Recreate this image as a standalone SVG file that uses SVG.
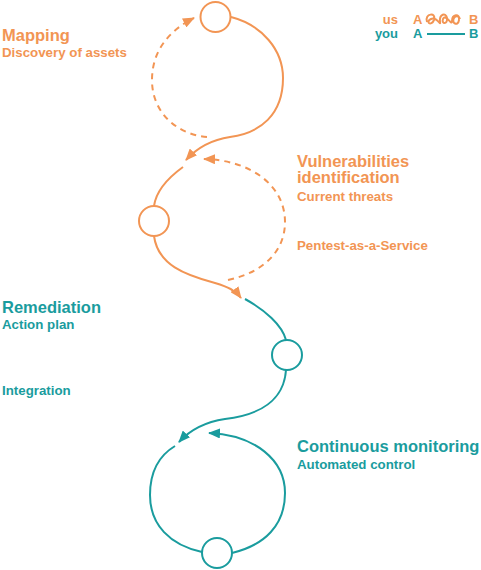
<svg xmlns="http://www.w3.org/2000/svg" width="481" height="570" viewBox="0 0 481 570">
<style>
.o{stroke:#F29554;fill:none;stroke-width:2}
.t{stroke:#1A9C9E;fill:none;stroke-width:2}
.d{stroke-dasharray:6 5}
.node{fill:#fff;stroke-width:2}
.h{font-family:"Liberation Sans",Arial,sans-serif;font-weight:700;font-size:16.5px}
.s{font-family:"Liberation Sans",Arial,sans-serif;font-weight:700;font-size:13.3px}
.l{font-family:"Liberation Sans",Arial,sans-serif;font-weight:700;font-size:13px}
.fo{fill:#F29554}
.ft{fill:#1A9C9E}
</style>
<defs>
<marker id="ao" viewBox="0 0 12 10" refX="11" refY="5" markerWidth="12" markerHeight="10" markerUnits="userSpaceOnUse" orient="auto"><path d="M0,0 L12,5 L0,10 z" fill="#F29554"/></marker>
<marker id="at" viewBox="0 0 12 10" refX="11" refY="5" markerWidth="12" markerHeight="10" markerUnits="userSpaceOnUse" orient="auto"><path d="M0,0 L12,5 L0,10 z" fill="#1A9C9E"/></marker>
</defs>
<g id="connectors">
<path class="o" d="M231,17 C262,25 283,50 283,78 C283,115 260,133 230,137 C210,140 196,149 186,160" marker-end="url(#ao)"/>
<path class="o d" d="M207,137 C180,135 152,115 152,80 C152,50 170,30 194,18" marker-end="url(#ao)"/>
<path class="o" d="M183,167 C165,180 156,192 154,206"/>
<path class="o" d="M154,236 C158,265 185,275 215,283 C228,287 235,290 241,298" marker-end="url(#ao)"/>
<path class="o d" d="M228,280 C265,272 285,250 285,222 C285,185 250,160 204,159" marker-end="url(#ao)"/>
<path class="t" d="M245,299 C265,310 282,325 286,340"/>
<path class="t" d="M286,370 C284,400 260,415 225,419 C205,422 190,430 179,442" marker-end="url(#at)"/>
<path class="t" d="M202,552 C170,545 150,525 150,495 C150,470 160,455 175,446"/>
<path class="t" d="M232,553 C265,545 285,525 285,493 C285,460 255,435 209,433" marker-end="url(#at)"/>
</g>
<g id="mapping">
<circle class="o node" cx="215.5" cy="17" r="15"/>
<text class="h fo" x="2" y="41">Mapping</text>
<text class="s fo" x="2" y="57">Discovery of assets</text>
</g>
<g id="vulnerabilities">
<circle class="o node" cx="154" cy="221" r="15"/>
<text class="h fo" x="297" y="167">Vulnerabilities</text>
<text class="h fo" x="297" y="183">identification</text>
<text class="s fo" x="297" y="201">Current threats</text>
<text class="s fo" x="297" y="250">Pentest-as-a-Service</text>
</g>
<g id="remediation">
<circle class="t node" cx="287" cy="355" r="15"/>
<text class="h ft" x="2" y="313">Remediation</text>
<text class="s ft" x="2" y="329">Action plan</text>
<text class="s ft" x="2" y="395">Integration</text>
</g>
<g id="monitoring">
<circle class="t node" cx="217" cy="553" r="15"/>
<text class="h ft" x="297" y="452">Continuous monitoring</text>
<text class="s ft" x="297" y="469">Automated control</text>
</g>
<g id="legend">
<text class="l fo" x="398" y="24" text-anchor="end">us</text>
<text class="l fo" x="413" y="24">A</text>
<text class="l fo" x="469" y="24">B</text>
<path class="o" stroke-width="1.4" d="M427,22 C424,13 437,12 434,20 C431,27 425,22 431,19 C437,16 441,27 440,22 C439,14 446,12 447,18 C448,25 441,24 443,19 C446,13 452,27 452,21 C452,14 460,13 459,20 C458,27 451,23 454,18 C456,15 459,16 460,19"/>
<text class="l ft" x="398" y="38" text-anchor="end">you</text>
<text class="l ft" x="413" y="38">A</text>
<text class="l ft" x="469" y="38">B</text>
<line class="t" x1="427" y1="34" x2="465" y2="34"/>
</g>
</svg>
